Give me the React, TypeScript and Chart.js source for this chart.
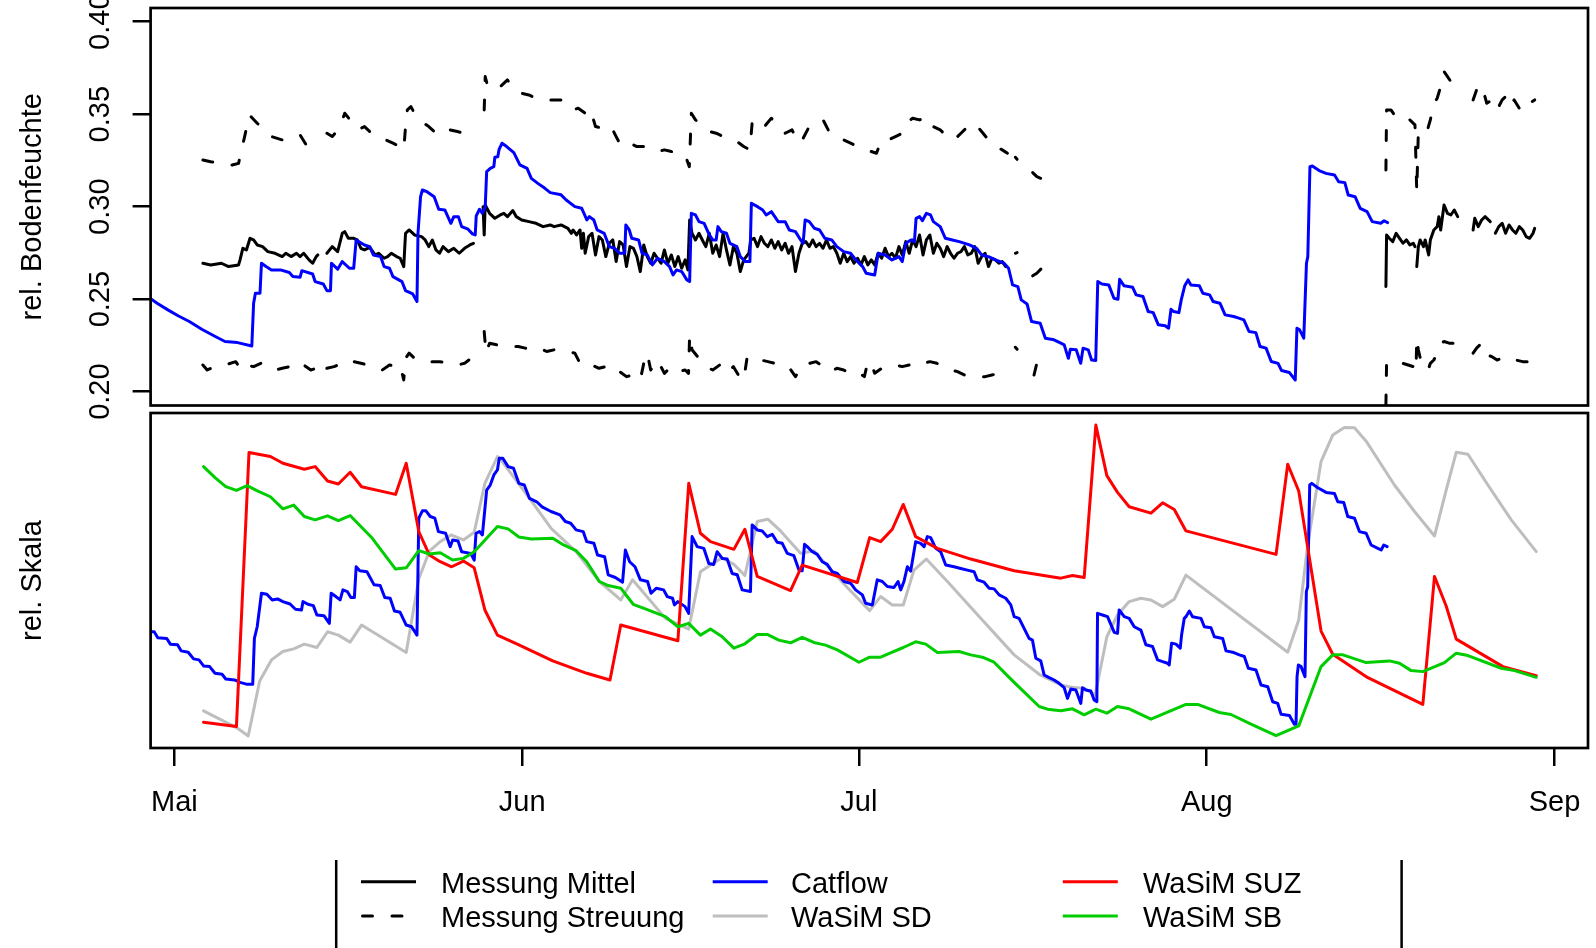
import React, { useEffect, useRef } from "react";
import { Chart, registerables } from "chart.js";

Chart.register(...registerables);

type P = [number, number] | null;

// ---------- axes (x = days after 1 May) ----------
const MONTH_DAYS = [0, 31, 61, 92, 123];
const MONTH_LABELS = ["Mai", "Jun", "Jul", "Aug", "Sep"];
const X_MIN = -2.12;
const X_MAX = 125.98;

const TOP_TICKS = [0.2, 0.25, 0.3, 0.35, 0.4];
const TOP_TICK_LABELS = ["0.20", "0.25", "0.30", "0.35", "0.40"];
const TOP_MIN = 0.1925;
const TOP_MAX = 0.4074;
const BOT_MIN = 0;
const BOT_MAX = 1;

const TOP_TITLE = "rel. Bodenfeuchte";
const BOTTOM_TITLE = "rel. Skala";

// ---------- top panel: measurement mean ----------
const messungMittel: P[] = [
  [2.54,0.2694],[3.24,0.2685],[4.19,0.2694],[4.83,0.2676],[5.72,0.2685],[5.85,0.2712],[6.10,0.2775],[6.42,0.2766],[6.74,0.2829],[7.06,0.2820],[7.38,0.2793],[7.86,0.2784],[8.33,0.2757],[8.97,0.2748],[9.61,0.2730],[9.93,0.2748],[10.40,0.2730],[10.88,0.2748],[11.20,0.2730],[11.52,0.2748],[12.00,0.2712],[12.32,0.2694],[12.64,0.2730],[12.79,0.2739],null,
  [13.59,0.2748],[14.07,0.2784],[14.55,0.2757],[14.96,0.2856],[15.18,0.2865],[15.50,0.2829],[15.98,0.2829],[16.30,0.2820],[16.62,0.2775],[16.94,0.2766],[17.41,0.2780],[17.89,0.2739],[18.21,0.2748],[18.69,0.2721],[19.00,0.2730],[19.33,0.2748],[19.80,0.2730],[20.12,0.2721],[20.44,0.2676],[20.60,0.2856],[20.92,0.2874],[21.40,0.2847],[22.03,0.2838],[22.35,0.2820],[22.67,0.2784],[22.99,0.2820],[23.31,0.2766],[23.63,0.2748],[23.94,0.2784],[24.42,0.2757],[24.90,0.2775],[25.38,0.2748],[25.86,0.2775],[26.33,0.2793],[26.65,0.2802],null,
  [27.51,0.3000],[27.61,0.2847],[27.70,0.3009],[28.09,0.2964],[28.56,0.2937],[29.04,0.2955],[29.36,0.2964],[29.68,0.2946],[30.16,0.2979],[30.47,0.2946],[30.95,0.2928],[31.59,0.2919],[32.23,0.2910],[32.86,0.2892],[33.50,0.2901],[33.84,0.2892],[34.46,0.2901],[35.07,0.2883],[35.38,0.2856],[35.53,0.2874],[35.84,0.2847],[36.15,0.2874],[36.30,0.2775],[36.45,0.2856],[36.61,0.2748],[36.92,0.2838],[37.22,0.2856],[37.53,0.2739],[37.84,0.2838],[38.14,0.2820],[38.45,0.2730],[38.76,0.2802],[39.07,0.2820],[39.37,0.2703],[39.68,0.2811],[39.99,0.2793],[40.29,0.2676],[40.60,0.2784],[40.91,0.2775],[41.22,0.2730],[41.52,0.2649],[41.83,0.2793],[42.14,0.2730],[42.45,0.2694],[42.75,0.2748],[43.06,0.2721],[43.37,0.2694],[43.67,0.2766],[43.98,0.2694],[44.29,0.2739],[44.60,0.2676],[44.90,0.2730],[45.21,0.2667],[45.52,0.2712],[45.76,0.2658],[45.92,0.2928],[46.13,0.2856],[46.44,0.2820],[46.75,0.2856],[47.05,0.2820],[47.36,0.2784],[47.67,0.2856],[47.98,0.2748],[48.28,0.2793],[48.59,0.2730],[48.90,0.2856],[49.20,0.2766],[49.51,0.2685],[49.82,0.2784],[50.13,0.2748],[50.43,0.2649],[50.74,0.2712],[51.20,0.2748],[51.36,0.2820],[51.66,0.2829],[51.97,0.2784],[52.28,0.2838],[52.58,0.2802],[52.89,0.2784],[53.20,0.2820],[53.51,0.2775],[53.81,0.2811],[54.12,0.2766],[54.43,0.2802],[54.73,0.2748],[55.04,0.2784],[55.35,0.2649],[55.66,0.2748],[55.96,0.2802],[56.27,0.2811],[56.58,0.2784],[56.89,0.2820],[57.19,0.2784],[57.50,0.2802],[57.81,0.2775],[58.11,0.2820],[58.42,0.2775],[58.73,0.2784],[59.04,0.2748],[59.34,0.2694],[59.65,0.2748],[59.96,0.2703],[60.26,0.2730],[60.57,0.2694],[60.88,0.2721],[61.19,0.2685],[61.49,0.2730],[61.80,0.2685],[62.11,0.2712],[62.41,0.2685],[62.72,0.2748],[63.03,0.2721],[63.34,0.2775],[63.64,0.2730],[63.95,0.2748],[64.26,0.2721],[64.57,0.2784],[64.87,0.2739],[65.18,0.2811],[65.49,0.2748],[65.79,0.2820],[66.10,0.2784],[66.41,0.2847],[66.72,0.2739],[67.02,0.2820],[67.33,0.2847],[67.64,0.2748],[67.95,0.2802],[68.25,0.2775],[68.56,0.2730],[68.87,0.2784],[69.17,0.2748],[69.48,0.2721],[69.79,0.2748],[70.10,0.2757],[70.40,0.2784],[70.71,0.2739],[71.02,0.2748],[71.33,0.2784],[71.63,0.2694],[71.94,0.2730],[72.25,0.2748],[72.55,0.2676],[72.86,0.2721],[73.17,0.2712],[73.48,0.2694],[73.78,0.2703],[74.09,0.2676],null,
  [74.95,0.2748],[75.10,0.2752],null,
  [76.49,0.2626],[76.86,0.2640],[77.22,0.2662],null,
  [107.97,0.2568],[108.03,0.2847],[108.27,0.2829],[108.58,0.2811],[108.88,0.2856],[109.19,0.2829],[109.49,0.2802],[109.80,0.2820],[110.10,0.2793],[110.41,0.2802],[110.56,0.2784],null,
  [110.72,0.2676],[110.86,0.2784],[111.02,0.2820],[111.32,0.2784],[111.47,0.2820],[111.78,0.2739],[111.93,0.2820],[112.24,0.2874],[112.54,0.2892],[112.69,0.2946],[112.85,0.2874],[113.15,0.3009],[113.46,0.2964],[113.76,0.2955],[114.06,0.2982],[114.37,0.2946],null,
  [115.74,0.2874],[115.89,0.2937],[116.20,0.2892],[116.50,0.2928],[116.81,0.2946],[117.27,0.2919],null,
  [117.72,0.2856],[118.03,0.2892],[118.33,0.2910],[118.64,0.2856],[118.94,0.2901],[119.25,0.2874],[119.55,0.2856],[119.86,0.2892],[120.16,0.2874],[120.47,0.2838],[120.77,0.2829],[121.08,0.2856],[121.23,0.2883],
];

// ---------- top panel: measurement spread (upper / lower) ----------
const streuungOben: P[] = [
  [2.54,0.3252],[3.24,0.3243],[4.19,0.3234],[5.15,0.3225],[5.72,0.3234],[5.95,0.3298],[6.26,0.3379],[6.68,0.3496],[7.38,0.3451],[8.02,0.3415],[8.65,0.3379],[9.61,0.3361],[10.40,0.3379],[11.20,0.3388],[11.84,0.3325],[12.48,0.3307],null,
  [13.59,0.3397],[14.07,0.3379],[14.71,0.3424],[15.18,0.3505],[15.66,0.3469],[16.30,0.3415],[16.94,0.3433],[17.57,0.3397],[18.21,0.3379],[18.85,0.3361],[19.48,0.3343],[20.12,0.3325],[20.44,0.3307],[20.60,0.3433],[20.76,0.3523],[21.08,0.3541],[21.55,0.3487],[22.03,0.3460],[22.67,0.3433],[23.31,0.3397],[23.94,0.3424],[24.58,0.3415],[25.22,0.3406],[25.86,0.3397],[26.33,0.3433],[26.65,0.3451],null,
  [27.61,0.3523],[27.70,0.3703],[27.93,0.3649],[28.40,0.3631],[29.04,0.3649],[29.68,0.3685],[30.32,0.3631],[30.95,0.3613],[31.59,0.3604],[32.23,0.3586],[32.86,0.3577],[33.84,0.3577],[34.46,0.3577],[35.07,0.3559],[35.53,0.3523],[35.99,0.3532],[36.61,0.3505],[36.92,0.3469],[37.22,0.3496],[37.53,0.3433],[38.14,0.3424],[38.76,0.3397],[39.07,0.3415],[39.37,0.3379],[39.68,0.3343],[39.99,0.3361],[40.60,0.3343],[41.22,0.3325],[41.83,0.3325],[42.45,0.3307],[43.06,0.3298],[43.67,0.3307],[44.29,0.3298],[44.90,0.3289],[45.52,0.3279],[45.89,0.3216],[46.07,0.3505],[46.44,0.3469],[47.05,0.3442],[47.67,0.3406],[48.28,0.3397],[48.90,0.3379],[49.51,0.3361],[50.13,0.3352],[50.74,0.3325],[51.29,0.3307],[51.51,0.3469],[51.97,0.3460],[52.58,0.3433],[53.20,0.3478],[53.81,0.3442],[54.43,0.3397],[55.04,0.3415],[55.66,0.3343],[55.96,0.3361],[56.58,0.3433],[57.19,0.3451],[57.81,0.3469],[58.42,0.3397],[59.04,0.3379],[59.65,0.3361],[60.26,0.3343],[60.88,0.3325],[61.49,0.3307],[62.11,0.3298],[62.57,0.3289],[63.03,0.3361],[63.64,0.3361],[64.26,0.3379],[64.87,0.3397],[65.18,0.3451],[65.79,0.3478],[66.41,0.3469],[67.02,0.3487],[67.64,0.3433],[68.25,0.3415],[68.87,0.3379],[69.48,0.3361],[70.10,0.3397],[70.71,0.3433],[71.33,0.3451],[71.94,0.3406],[72.55,0.3361],[73.17,0.3325],[73.78,0.3307],[74.24,0.3289],null,
  [74.95,0.3267],[75.10,0.3256],null,
  [76.49,0.3184],[76.86,0.3162],[77.22,0.3153],null,
  [107.97,0.3198],[108.03,0.3523],[108.42,0.3523],[108.73,0.3496],[109.19,0.3469],[109.64,0.3460],[110.10,0.3469],[110.56,0.3442],[110.72,0.3081],[110.86,0.3406],[111.17,0.3415],[111.63,0.3406],[111.93,0.3469],[112.24,0.3559],[112.54,0.3586],[112.85,0.3649],[113.15,0.3730],[113.46,0.3703],[113.76,0.3676],[114.06,0.3685],[114.37,0.3667],null,
  [115.74,0.3577],[116.05,0.3631],[116.50,0.3658],[116.96,0.3559],[117.42,0.3577],[117.88,0.3523],[118.33,0.3577],[118.64,0.3595],[118.94,0.3541],[119.40,0.3577],[119.86,0.3532],[120.32,0.3514],[120.77,0.3559],[121.23,0.3577],
];

const streuungUnten: P[] = [
  [2.54,0.2144],[2.92,0.2117],[3.56,0.2135],[4.51,0.2144],[5.47,0.2162],[5.95,0.2117],[6.42,0.2144],[7.06,0.2135],[7.70,0.2153],[8.33,0.2144],[8.97,0.2117],[9.61,0.2126],[10.24,0.2135],[10.88,0.2117],[11.52,0.2144],[12.16,0.2117],[12.64,0.2126],null,
  [13.59,0.2126],[14.23,0.2135],[14.86,0.2153],[15.34,0.2171],[15.98,0.2162],[16.62,0.2153],[17.25,0.2144],[17.89,0.2135],[18.53,0.2117],[19.17,0.2144],[19.80,0.2135],[20.12,0.2144],[20.44,0.2063],[20.60,0.2180],[20.92,0.2208],[21.40,0.2180],[22.03,0.2171],[22.67,0.2162],[23.63,0.2162],[24.58,0.2153],[25.22,0.2144],[25.86,0.2153],[26.24,0.2171],null,
  [27.61,0.2325],[27.77,0.2208],[28.09,0.2262],[28.72,0.2253],[29.36,0.2253],[30.00,0.2244],[30.63,0.2244],[31.27,0.2235],[31.91,0.2226],[32.55,0.2235],[33.18,0.2217],[33.84,0.2226],[34.46,0.2226],[35.07,0.2217],[35.69,0.2208],[36.15,0.2153],[36.61,0.2135],[37.22,0.2144],[37.84,0.2126],[38.45,0.2135],[39.07,0.2144],[39.68,0.2108],[40.29,0.2081],[40.91,0.2090],[41.52,0.2063],[41.83,0.2153],[42.14,0.2208],[42.45,0.2117],[43.06,0.2171],[43.67,0.2099],[44.29,0.2135],[44.90,0.2108],[45.52,0.2117],[45.82,0.2099],[45.92,0.2307],[46.13,0.2226],[46.75,0.2180],[47.36,0.2135],[47.98,0.2117],[48.59,0.2144],[49.20,0.2099],[49.82,0.2135],[50.43,0.2072],[50.74,0.2063],[51.05,0.2189],[51.66,0.2180],[52.28,0.2171],[52.89,0.2162],[53.51,0.2153],[54.12,0.2144],[54.73,0.2135],[55.35,0.2081],[55.96,0.2144],[56.58,0.2153],[57.19,0.2162],[57.81,0.2135],[58.42,0.2108],[59.04,0.2126],[59.65,0.2117],[60.26,0.2099],[60.88,0.2108],[61.49,0.2081],[61.80,0.2162],[62.11,0.2153],[62.41,0.2099],[63.03,0.2126],[63.64,0.2135],[64.26,0.2144],[64.87,0.2135],[65.49,0.2144],[66.10,0.2162],[66.72,0.2153],[67.33,0.2162],[67.95,0.2153],[68.56,0.2135],[69.17,0.2117],[69.79,0.2108],[70.40,0.2090],[71.02,0.2090],[71.63,0.2081],[72.25,0.2081],[72.86,0.2090],[73.48,0.2099],[73.94,0.2072],[74.24,0.2081],null,
  [74.95,0.2240],[75.10,0.2229],null,
  [76.61,0.2090],[76.86,0.2153],[77.22,0.2171],null,
  [107.97,0.1928],[108.03,0.2153],[108.42,0.2144],[109.03,0.2144],[109.49,0.2153],[109.95,0.2144],[110.41,0.2135],[110.65,0.2108],[110.72,0.2289],[110.86,0.2226],[111.17,0.2144],[111.47,0.2153],[111.78,0.2126],[111.93,0.2153],[112.24,0.2171],[112.54,0.2208],[112.85,0.2262],[113.15,0.2271],[113.61,0.2262],[114.06,0.2262],[114.37,0.2253],null,
  [115.74,0.2208],[116.05,0.2235],[116.50,0.2262],[116.96,0.2199],[117.42,0.2189],[117.88,0.2171],[118.33,0.2180],[118.94,0.2162],[119.55,0.2171],[120.16,0.2162],[120.93,0.2162],[121.23,0.2162],
];

// ---------- top panel: Catflow soil moisture ----------
const catflowTop: P[] = [
  [-2.18,0.2505],[-1.54,0.2478],[-0.58,0.2442],[0.37,0.2409],[1.33,0.2379],[2.44,0.2337],[3.56,0.2301],[4.51,0.2271],[5.63,0.2265],[6.90,0.2247],[7.06,0.2478],[7.22,0.2532],[7.63,0.2532],[7.76,0.2694],[8.17,0.2676],[8.65,0.2658],[9.45,0.2658],[10.24,0.2644],[10.56,0.2622],[11.20,0.2618],[11.36,0.2654],[12.32,0.2636],[12.54,0.2595],[13.27,0.2582],[13.59,0.2546],[13.91,0.2546],[14.00,0.2694],[14.55,0.2662],[14.96,0.2703],[15.60,0.2667],[15.98,0.2667],[16.20,0.2820],[16.94,0.2793],[17.41,0.2784],[17.73,0.2739],[18.37,0.2730],[18.69,0.2676],[19.17,0.2667],[19.48,0.2622],[20.28,0.2595],[20.60,0.2546],[21.24,0.2528],[21.62,0.2487],[21.71,0.2856],[21.94,0.3054],[22.10,0.3090],[22.51,0.3081],[23.15,0.3054],[23.56,0.2986],[24.10,0.2982],[24.64,0.2910],[24.90,0.2946],[25.31,0.2946],[25.60,0.2892],[26.17,0.2878],[26.56,0.2853],[26.81,0.2847],[26.90,0.2950],[27.19,0.2986],[27.45,0.2964],[27.70,0.2997],[27.83,0.3189],[28.15,0.3207],[28.47,0.3216],[28.56,0.3267],[28.82,0.3270],[28.94,0.3310],[29.20,0.3343],[29.61,0.3325],[30.25,0.3292],[30.79,0.3226],[31.43,0.3207],[31.81,0.3153],[32.39,0.3126],[33.02,0.3099],[33.50,0.3076],[34.46,0.3064],[34.92,0.3036],[35.69,0.3000],[36.30,0.2991],[36.76,0.2928],[36.98,0.2946],[37.38,0.2928],[37.68,0.2874],[38.30,0.2856],[38.76,0.2784],[39.22,0.2775],[39.68,0.2748],[40.14,0.2748],[40.23,0.2901],[40.54,0.2874],[40.76,0.2829],[41.37,0.2820],[41.68,0.2748],[42.14,0.2739],[42.60,0.2685],[43.06,0.2721],[43.67,0.2703],[44.13,0.2676],[44.44,0.2631],[44.75,0.2658],[45.21,0.2649],[45.67,0.2604],[45.92,0.2595],[46.07,0.2964],[46.44,0.2955],[46.75,0.2919],[47.21,0.2910],[47.67,0.2847],[47.98,0.2820],[48.28,0.2820],[48.44,0.2892],[48.74,0.2865],[49.20,0.2856],[49.51,0.2802],[50.13,0.2784],[50.43,0.2730],[50.89,0.2703],[51.29,0.2703],[51.42,0.3018],[51.97,0.3000],[52.43,0.2982],[52.74,0.2955],[53.20,0.2973],[53.81,0.2919],[54.43,0.2919],[54.80,0.2874],[55.35,0.2865],[55.81,0.2820],[56.03,0.2802],[56.21,0.2928],[56.58,0.2919],[57.04,0.2883],[57.50,0.2874],[57.96,0.2829],[58.58,0.2820],[59.04,0.2784],[59.65,0.2757],[60.26,0.2748],[60.73,0.2712],[61.34,0.2676],[61.65,0.2640],[62.41,0.2631],[62.72,0.2748],[63.34,0.2739],[63.95,0.2712],[64.57,0.2730],[64.87,0.2703],[65.18,0.2802],[65.64,0.2820],[65.95,0.2811],[66.10,0.2937],[66.41,0.2946],[66.66,0.2924],[67.02,0.2964],[67.39,0.2955],[67.64,0.2919],[68.25,0.2892],[68.71,0.2829],[69.33,0.2820],[69.94,0.2811],[70.86,0.2793],[71.48,0.2775],[71.94,0.2739],[72.55,0.2730],[73.17,0.2712],[73.94,0.2694],[74.34,0.2667],[74.70,0.2577],[75.17,0.2568],[75.47,0.2496],[75.99,0.2474],[76.39,0.2379],[77.16,0.2370],[77.62,0.2289],[78.39,0.2280],[79.00,0.2262],[79.30,0.2253],[79.67,0.2180],[79.85,0.2229],[80.37,0.2226],[80.77,0.2153],[80.98,0.2235],[81.44,0.2226],[81.74,0.2171],[82.11,0.2168],[82.29,0.2595],[82.66,0.2582],[83.27,0.2577],[83.73,0.2505],[84.09,0.2499],[84.24,0.2607],[84.64,0.2572],[85.40,0.2564],[85.71,0.2523],[86.32,0.2514],[86.78,0.2433],[87.23,0.2427],[87.69,0.2361],[88.30,0.2356],[88.60,0.2343],[88.82,0.2445],[89.06,0.2433],[89.52,0.2427],[89.73,0.2496],[90.04,0.2572],[90.34,0.2604],[90.59,0.2577],[91.35,0.2572],[91.65,0.2532],[92.26,0.2523],[92.57,0.2487],[93.18,0.2478],[93.64,0.2415],[94.40,0.2406],[94.86,0.2397],[95.31,0.2388],[95.77,0.2325],[96.38,0.2319],[96.75,0.2244],[97.29,0.2235],[97.75,0.2163],[98.36,0.2153],[98.67,0.2114],[99.37,0.2103],[99.89,0.2063],[100.04,0.2343],[100.28,0.2334],[100.65,0.2289],[100.89,0.2694],[101.01,0.2730],[101.20,0.3216],[101.41,0.3220],[102.02,0.3195],[102.63,0.3180],[103.39,0.3171],[103.76,0.3135],[104.31,0.3130],[104.61,0.3063],[105.22,0.3054],[105.68,0.2991],[106.29,0.2973],[106.75,0.2919],[107.51,0.2910],[107.81,0.2924],[108.12,0.2914],
];

// ---------- bottom panel (relative scale 0..1) ----------
const catflowRel: P[] = [
  [-2.18,0.347],[-1.80,0.347],[-1.48,0.329],[-0.68,0.327],[-0.36,0.310],[0.28,0.308],[0.60,0.290],[1.23,0.286],[1.71,0.266],[2.19,0.263],[2.60,0.245],[3.14,0.243],[3.62,0.223],[4.26,0.220],[4.58,0.206],[5.37,0.203],[5.85,0.196],[6.49,0.190],[6.98,0.190],[7.13,0.327],[7.38,0.362],[7.76,0.462],[8.24,0.459],[8.72,0.442],[9.20,0.445],[9.67,0.437],[10.31,0.430],[10.79,0.414],[11.33,0.412],[11.46,0.437],[11.90,0.429],[12.38,0.425],[12.70,0.397],[13.33,0.395],[13.81,0.372],[13.97,0.462],[14.39,0.452],[14.77,0.442],[15.02,0.472],[15.41,0.467],[15.73,0.449],[16.04,0.449],[16.20,0.541],[16.52,0.529],[17.16,0.526],[17.80,0.487],[18.34,0.485],[18.75,0.449],[19.23,0.447],[19.61,0.409],[20.12,0.405],[20.66,0.367],[21.14,0.362],[21.62,0.337],[21.78,0.686],[22.10,0.708],[22.42,0.708],[22.80,0.691],[23.21,0.686],[23.53,0.646],[24.17,0.641],[24.58,0.601],[24.80,0.621],[25.28,0.618],[25.60,0.586],[26.40,0.581],[26.72,0.561],[26.88,0.641],[27.19,0.646],[27.45,0.636],[27.83,0.770],[28.15,0.785],[28.47,0.815],[28.79,0.830],[28.95,0.865],[29.27,0.865],[29.74,0.840],[30.22,0.835],[30.70,0.790],[31.18,0.785],[31.65,0.745],[32.29,0.735],[32.77,0.720],[33.56,0.706],[34.36,0.696],[34.84,0.676],[35.32,0.671],[35.80,0.651],[36.43,0.646],[36.75,0.616],[37.39,0.611],[37.71,0.576],[38.34,0.571],[38.66,0.517],[39.30,0.509],[39.94,0.495],[40.19,0.591],[40.57,0.556],[41.05,0.541],[41.53,0.502],[42.17,0.497],[42.48,0.462],[42.96,0.477],[43.60,0.472],[43.92,0.452],[44.40,0.447],[44.56,0.427],[44.87,0.437],[45.51,0.422],[45.83,0.402],[46.14,0.631],[46.59,0.601],[47.18,0.596],[47.63,0.551],[48.07,0.548],[48.37,0.586],[48.82,0.566],[49.26,0.564],[49.71,0.521],[50.16,0.517],[50.60,0.472],[51.34,0.467],[51.49,0.666],[51.94,0.651],[52.39,0.648],[52.83,0.631],[53.28,0.638],[53.72,0.614],[54.17,0.611],[54.62,0.581],[55.21,0.574],[55.66,0.531],[55.95,0.529],[56.16,0.608],[56.40,0.601],[56.85,0.586],[57.29,0.578],[57.74,0.556],[58.18,0.548],[58.63,0.526],[59.08,0.521],[59.67,0.497],[60.26,0.492],[60.71,0.472],[61.31,0.457],[61.60,0.432],[62.20,0.427],[62.64,0.502],[63.09,0.497],[63.54,0.482],[64.13,0.479],[64.49,0.497],[64.73,0.472],[65.02,0.497],[65.32,0.541],[65.62,0.528],[66.06,0.616],[66.51,0.611],[66.81,0.601],[67.10,0.631],[67.40,0.628],[67.85,0.596],[68.29,0.586],[68.74,0.546],[69.48,0.541],[70.08,0.536],[70.67,0.531],[71.27,0.526],[71.56,0.502],[72.16,0.495],[72.61,0.477],[73.05,0.475],[73.50,0.457],[74.09,0.447],[74.54,0.427],[74.84,0.392],[75.28,0.387],[75.58,0.367],[76.17,0.327],[76.47,0.322],[76.77,0.268],[77.21,0.260],[77.51,0.218],[77.96,0.210],[78.40,0.203],[78.85,0.193],[79.30,0.180],[79.59,0.148],[79.89,0.176],[80.34,0.173],[80.78,0.133],[80.93,0.180],[81.23,0.173],[81.67,0.170],[81.97,0.143],[82.21,0.138],[82.27,0.402],[82.71,0.397],[83.16,0.392],[83.76,0.345],[84.05,0.342],[84.20,0.412],[84.65,0.392],[85.09,0.387],[85.54,0.362],[86.13,0.352],[86.58,0.308],[87.17,0.303],[87.62,0.263],[88.07,0.258],[88.51,0.253],[88.66,0.248],[88.87,0.313],[89.26,0.310],[89.64,0.298],[89.76,0.337],[90.00,0.387],[90.15,0.392],[90.45,0.409],[90.74,0.392],[91.49,0.387],[91.79,0.362],[92.38,0.359],[92.68,0.332],[93.42,0.327],[93.72,0.290],[94.31,0.286],[94.91,0.278],[95.35,0.273],[95.71,0.238],[96.39,0.233],[96.84,0.188],[97.44,0.183],[97.88,0.138],[98.33,0.133],[98.62,0.101],[99.37,0.097],[99.81,0.071],[99.96,0.071],[100.05,0.213],[100.17,0.248],[100.41,0.243],[100.76,0.213],[100.88,0.467],[101.00,0.482],[101.18,0.785],[101.36,0.790],[101.90,0.777],[102.64,0.763],[103.38,0.760],[103.68,0.735],[104.21,0.733],[104.57,0.691],[105.17,0.686],[105.61,0.646],[106.21,0.641],[106.65,0.606],[107.25,0.596],[107.55,0.591],[107.78,0.606],[108.08,0.601],
];

const wasimSD: P[] = [
  [2.60,0.111],[5.53,0.061],[6.58,0.036],[7.60,0.200],[8.65,0.263],[9.67,0.288],[10.63,0.296],[11.58,0.310],[12.70,0.300],[13.65,0.347],[14.61,0.337],[15.66,0.316],[16.68,0.367],[20.66,0.285],[21.78,0.505],[22.73,0.588],[23.69,0.616],[24.65,0.636],[25.76,0.621],[26.72,0.644],[27.67,0.790],[28.79,0.870],[29.10,0.860],[31.65,0.745],[33.56,0.656],[35.80,0.586],[37.87,0.497],[39.78,0.442],[40.83,0.502],[43.76,0.387],[45.83,0.355],[46.88,0.526],[47.78,0.546],[48.82,0.568],[49.86,0.548],[50.84,0.515],[51.94,0.676],[52.89,0.683],[54.02,0.648],[55.80,0.581],[56.99,0.589],[58.18,0.544],[59.97,0.479],[61.96,0.410],[62.94,0.452],[63.98,0.427],[64.96,0.427],[65.91,0.531],[67.01,0.564],[68.89,0.497],[71.86,0.387],[74.84,0.278],[77.07,0.220],[79.00,0.188],[80.04,0.181],[81.08,0.178],[82.06,0.158],[83.10,0.332],[84.05,0.397],[85.09,0.437],[86.13,0.447],[87.03,0.442],[88.07,0.422],[89.11,0.444],[90.15,0.516],[99.22,0.286],[100.20,0.382],[101.00,0.606],[102.19,0.855],[103.23,0.934],[104.27,0.957],[105.17,0.956],[106.21,0.916],[108.73,0.785],[110.52,0.706],[112.30,0.633],[113.34,0.770],[114.24,0.883],[115.28,0.877],[117.06,0.785],[119.14,0.681],[121.37,0.586],
];

const wasimSUZ: P[] = [
  [2.60,0.077],[5.53,0.064],[6.65,0.882],[8.56,0.870],[9.67,0.850],[11.58,0.832],[12.54,0.840],[13.65,0.797],[14.61,0.788],[15.66,0.823],[16.68,0.780],[19.71,0.757],[20.66,0.850],[21.78,0.646],[22.73,0.576],[23.69,0.556],[24.71,0.541],[25.76,0.558],[26.72,0.538],[27.67,0.412],[28.79,0.337],[30.70,0.308],[33.72,0.260],[36.75,0.223],[38.82,0.203],[39.78,0.367],[44.87,0.320],[45.84,0.790],[46.88,0.641],[47.78,0.616],[49.86,0.593],[50.84,0.653],[51.94,0.512],[54.91,0.470],[55.95,0.546],[60.86,0.494],[61.96,0.628],[62.94,0.616],[63.98,0.653],[64.96,0.727],[66.06,0.631],[68.00,0.596],[70.97,0.564],[74.84,0.529],[79.00,0.507],[80.04,0.515],[81.08,0.509],[82.12,0.964],[83.10,0.813],[84.05,0.763],[85.09,0.720],[87.03,0.701],[88.07,0.732],[89.11,0.712],[90.15,0.648],[98.18,0.578],[99.22,0.847],[100.20,0.767],[102.19,0.349],[103.23,0.280],[106.36,0.210],[111.26,0.130],[112.30,0.512],[113.34,0.424],[114.24,0.325],[118.40,0.243],[121.37,0.216],
];

const wasimSB: P[] = [
  [2.60,0.840],[3.62,0.807],[4.58,0.780],[5.53,0.769],[6.49,0.783],[7.44,0.767],[8.56,0.750],[9.67,0.714],[10.63,0.725],[11.58,0.691],[12.54,0.681],[13.65,0.693],[14.61,0.679],[15.66,0.694],[17.64,0.626],[19.71,0.534],[20.66,0.538],[21.78,0.589],[22.73,0.579],[23.69,0.583],[24.80,0.561],[25.76,0.566],[26.72,0.586],[28.79,0.661],[29.74,0.654],[30.70,0.630],[31.81,0.624],[33.72,0.626],[34.68,0.606],[35.80,0.589],[36.75,0.556],[37.87,0.497],[38.66,0.485],[39.78,0.477],[40.89,0.429],[41.85,0.417],[43.76,0.392],[44.87,0.362],[45.83,0.372],[46.88,0.337],[47.78,0.355],[48.82,0.332],[49.86,0.298],[50.84,0.311],[51.94,0.339],[52.83,0.339],[53.87,0.322],[54.91,0.314],[55.95,0.330],[56.99,0.315],[58.03,0.307],[59.08,0.293],[61.01,0.256],[61.96,0.271],[62.94,0.271],[63.98,0.286],[64.96,0.300],[66.06,0.317],[66.96,0.310],[68.00,0.285],[69.93,0.288],[70.97,0.278],[72.01,0.271],[73.05,0.256],[74.84,0.196],[77.07,0.124],[77.81,0.116],[79.00,0.111],[80.04,0.117],[81.08,0.099],[82.12,0.116],[83.10,0.104],[84.05,0.124],[85.09,0.117],[87.03,0.086],[90.15,0.130],[91.19,0.130],[93.12,0.106],[94.16,0.100],[95.95,0.071],[98.18,0.037],[100.20,0.066],[102.19,0.243],[103.23,0.278],[104.13,0.278],[106.21,0.255],[108.29,0.260],[109.18,0.253],[110.22,0.231],[111.26,0.228],[113.19,0.255],[114.24,0.283],[115.28,0.276],[118.25,0.238],[119.44,0.231],[121.37,0.211],
];

const LEGEND_COLUMNS = [
  ["Messung Mittel", "Messung Streuung"],
  ["Catflow", "WaSiM SD"],
  ["WaSiM SUZ", "WaSiM SB"],
];

// ---------- styles & layout ----------
const FONT = '29px "Liberation Sans", Arial, Helvetica, sans-serif';
const LW = 3.0;
const DASH = [10, 19.5];
const BLACK = "#000000";
const BLUE = "#0000FF";
const GRAY = "#BEBEBE";
const RED = "#FF0000";
const GREEN = "#00CD00";
const LEGEND_STYLES = [
  [{ c: BLACK, d: [] as number[] }, { c: BLACK, d: DASH }],
  [{ c: BLUE, d: [] as number[] }, { c: GRAY, d: [] as number[] }],
  [{ c: RED, d: [] as number[] }, { c: GREEN, d: [] as number[] }],
];

const W = 1596;
const H = 948;
const TOP_CANVAS_H = 440; // taller than the panel so the lowest tick label is not cut
const BOT_TOP = 409;
const BOT_H = H - BOT_TOP;
const AXIS_W = 150.6;

function toXY(pts: P[]) {
  const out: { x: number; y: number | null }[] = [];
  let lastX = 0;
  for (const p of pts) {
    if (p === null) out.push({ x: lastX + 0.005, y: null });
    else {
      out.push({ x: p[0], y: p[1] });
      lastX = p[0];
    }
  }
  return out;
}

function line(pts: P[], color: string, dash: number[] = []) {
  return {
    data: toXY(pts),
    borderColor: color,
    backgroundColor: color,
    borderWidth: LW,
    borderDash: dash,
    borderCapStyle: "round",
    borderJoinStyle: "round",
    pointRadius: 0,
    pointHoverRadius: 0,
    tension: 0,
    spanGaps: false,
    fill: false,
  };
}

function drawBox(ctx: CanvasRenderingContext2D, a: any) {
  ctx.save();
  ctx.strokeStyle = BLACK;
  ctx.lineWidth = 2.7;
  ctx.setLineDash([]);
  ctx.strokeRect(a.left, a.top, a.right - a.left, a.bottom - a.top);
  ctx.restore();
}

function drawVText(ctx: CanvasRenderingContext2D, text: string, x: number, y: number) {
  ctx.save();
  ctx.translate(x, y);
  ctx.rotate(-Math.PI / 2);
  ctx.font = FONT;
  ctx.fillStyle = BLACK;
  ctx.textAlign = "center";
  ctx.textBaseline = "alphabetic";
  ctx.fillText(text, 0, 0);
  ctx.restore();
}

const topDecor = {
  id: "topDecor",
  afterDraw(chart: any) {
    const { ctx, chartArea } = chart;
    drawBox(ctx, chartArea);
    const ys = chart.scales.y;
    TOP_TICKS.forEach((v, i) => {
      drawVText(ctx, TOP_TICK_LABELS[i], 109, ys.getPixelForValue(v));
    });
    drawVText(ctx, TOP_TITLE, 40.5, (chartArea.top + chartArea.bottom) / 2);
  },
};

const bottomDecor = {
  id: "bottomDecor",
  afterDraw(chart: any) {
    const { ctx, chartArea } = chart;
    drawBox(ctx, chartArea);
    const xs = chart.scales.x;
    ctx.save();
    ctx.font = FONT;
    ctx.fillStyle = BLACK;
    ctx.textAlign = "center";
    ctx.textBaseline = "alphabetic";
    MONTH_DAYS.forEach((d, i) => {
      ctx.fillText(MONTH_LABELS[i], xs.getPixelForValue(d), 811 - BOT_TOP);
    });
    ctx.restore();
    drawVText(ctx, BOTTOM_TITLE, 40.5, (chartArea.top + chartArea.bottom) / 2);

    // legend (frame clipped at top, only its sides are visible)
    const legTop = 860 - BOT_TOP;
    ctx.save();
    ctx.strokeStyle = BLACK;
    ctx.lineWidth = 2.5;
    [336.2, 1401.6].forEach((x) => {
      ctx.beginPath();
      ctx.moveTo(x, legTop);
      ctx.lineTo(x, BOT_H + 2);
      ctx.stroke();
    });
    const sampleX = [361, 712.7, 1062.8];
    const textX = [441, 791, 1143];
    const rowY = [881.7 - BOT_TOP, 916 - BOT_TOP];
    LEGEND_COLUMNS.forEach((col, ci) => {
      col.forEach((label, ri) => {
        const st = LEGEND_STYLES[ci][ri];
        ctx.strokeStyle = st.c;
        ctx.lineWidth = LW;
        ctx.lineCap = st.d.length ? "round" : "butt";
        ctx.setLineDash(st.d);
        ctx.beginPath();
        ctx.moveTo(sampleX[ci] + (st.d.length ? 1.5 : 0), rowY[ri]);
        ctx.lineTo(sampleX[ci] + 55, rowY[ri]);
        ctx.stroke();
        ctx.setLineDash([]);
        ctx.font = FONT;
        ctx.fillStyle = BLACK;
        ctx.textAlign = "left";
        ctx.textBaseline = "alphabetic";
        ctx.fillText(label, textX[ci], rowY[ri] + 11);
      });
    });
    ctx.restore();
  },
};

export default function App() {
  const topRef = useRef<HTMLCanvasElement | null>(null);
  const botRef = useRef<HTMLCanvasElement | null>(null);

  useEffect(() => {
    const common = {
      animation: false,
      responsive: false,
      devicePixelRatio: 1,
      events: [],
      plugins: { legend: { display: false }, tooltip: { enabled: false } },
    };
    const top = new Chart(topRef.current as HTMLCanvasElement, {
      type: "line",
      data: {
        datasets: [
          line(catflowTop, BLUE),
          line(messungMittel, BLACK),
          line(streuungOben, BLACK, DASH),
          line(streuungUnten, BLACK, DASH),
        ] as any,
      },
      options: {
        ...common,
        layout: { padding: { top: 8, right: W - 1588, bottom: TOP_CANVAS_H - 405.5, left: 0 } },
        scales: {
          x: { type: "linear", min: X_MIN, max: X_MAX, display: false },
          y: {
            type: "linear",
            min: TOP_MIN,
            max: TOP_MAX,
            afterFit: (s: any) => {
              s.width = AXIS_W;
            },
            afterBuildTicks: (s: any) => {
              s.ticks = TOP_TICKS.map((v) => ({ value: v }));
            },
            ticks: { display: false },
            grid: { display: true, drawOnChartArea: false, drawTicks: true, tickLength: 18, color: BLACK, lineWidth: 2.5 },
            border: { display: false },
          },
        },
      } as any,
      plugins: [topDecor],
    });

    const bot = new Chart(botRef.current as HTMLCanvasElement, {
      type: "line",
      data: {
        datasets: [
          line(wasimSB, GREEN),
          line(wasimSUZ, RED),
          line(catflowRel, BLUE),
          line(wasimSD, GRAY),
        ] as any,
      },
      options: {
        ...common,
        layout: { padding: { top: 413 - BOT_TOP, right: W - 1588, bottom: 0, left: 0 } },
        scales: {
          x: {
            type: "linear",
            min: X_MIN,
            max: X_MAX,
            afterFit: (s: any) => {
              s.height = H - 748;
            },
            afterBuildTicks: (s: any) => {
              s.ticks = MONTH_DAYS.map((v) => ({ value: v }));
            },
            ticks: { display: false },
            grid: { display: true, drawOnChartArea: false, drawTicks: true, tickLength: 18, color: BLACK, lineWidth: 2.5 },
            border: { display: false },
          },
          y: {
            type: "linear",
            min: BOT_MIN,
            max: BOT_MAX,
            afterFit: (s: any) => {
              s.width = AXIS_W;
            },
            ticks: { display: false },
            grid: { display: false },
            border: { display: false },
          },
        },
      } as any,
      plugins: [bottomDecor],
    });

    return () => {
      top.destroy();
      bot.destroy();
    };
  }, []);

  return (
    <div style={{ position: "absolute", left: 0, top: 0, width: W, height: H, background: "#fff", overflow: "hidden" }}>
      <canvas ref={topRef} width={W} height={TOP_CANVAS_H} style={{ position: "absolute", left: 0, top: 0, width: W, height: TOP_CANVAS_H }} />
      <canvas ref={botRef} width={W} height={BOT_H} style={{ position: "absolute", left: 0, top: BOT_TOP, width: W, height: BOT_H }} />
    </div>
  );
}
